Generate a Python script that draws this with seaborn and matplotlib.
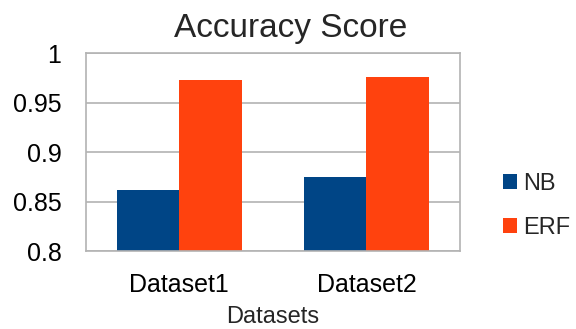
import numpy as np
import matplotlib.pyplot as plt
import seaborn as sns
import pandas as pd

datasets = ["Dataset1", "Dataset2"]
nb_scores = [0.862, 0.875]
erf_scores = [0.973, 0.976]

data = pd.DataFrame({
    "Dataset": datasets * 2,
    "Score": nb_scores + erf_scores,
    "Model": ["NB"] * len(datasets) + ["ERF"] * len(datasets),
})

sns.set_style("white")
plt.rcParams['font.family'] = ['Liberation Sans', 'DejaVu Sans']

fig = plt.figure(figsize=(5.76, 3.29), dpi=100)
ax = fig.add_axes([0.1488, 0.237, 0.6498, 0.601])

sns.barplot(data=data, x="Dataset", y="Score", hue="Model",
            palette={"NB": "#004586", "ERF": "#ff420e"},
            width=0.667, linewidth=0, saturation=1, ax=ax)

ax.set_ylim(0.8, 1.0)
ax.set_xlim(-0.5, 1.5)
ax.set_yticks([0.8, 0.85, 0.9, 0.95, 1.0])
ax.set_yticklabels(["0.8", "0.85", "0.9", "0.95", "1"])
ax.yaxis.grid(True, color="#b3b3b3", linewidth=1.2)
ax.set_axisbelow(True)
for s in ax.spines.values():
    s.set_color("#b3b3b3")
    s.set_linewidth(1.2)

# ticks sit on the category boundaries, like the spreadsheet chart
ax.set_xticks([-0.5, 0.5, 1.5], minor=True)
ax.tick_params(axis="x", which="major", length=0, labelsize=18, pad=16)
ax.tick_params(axis="x", which="minor", length=6, width=1.2)
ax.tick_params(axis="y", length=6.5, width=1.2, labelsize=18, pad=11)
ax.tick_params(axis="both", which="both", colors="#b3b3b3", labelcolor="black")

ax.set_xlabel("Datasets", fontsize=17, labelpad=6)
ax.set_ylabel("")
fig.suptitle("Accuracy Score", fontsize=24, x=0.505, y=0.8866, va="baseline")

ax.legend(loc="center left", bbox_to_anchor=(0.873, 0.374),
          bbox_transform=fig.transFigure, frameon=False, fontsize=17,
          handlelength=0.59, handleheight=0.59, handletextpad=0.25,
          labelspacing=0.92, borderaxespad=0, borderpad=0)

fig.savefig("out.png", dpi=100)
